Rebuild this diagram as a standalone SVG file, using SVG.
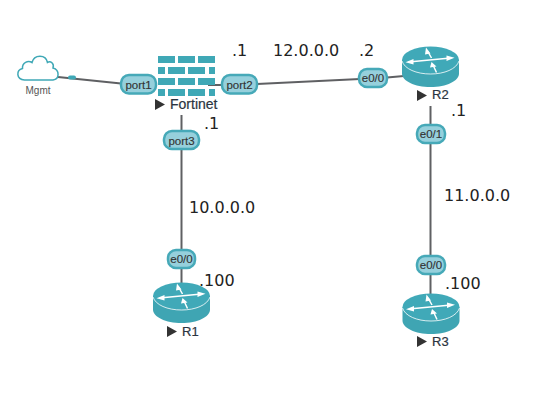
<svg xmlns="http://www.w3.org/2000/svg" width="554" height="413" viewBox="0 0 554 413">
<style>
text{font-family:"Liberation Sans",Arial,sans-serif}
.net{font-family:"DejaVu Sans",Verdana,sans-serif;font-size:16px;fill:#222}
.pill{fill:#96d0dc;stroke:#46a9b8;stroke-width:2.500}
.pt{font-size:11.500px;fill:#333;text-anchor:middle;stroke:#333;stroke-width:.15}
.ept{font-size:11.500px}
.nm{font-size:13px;fill:#2b3440;stroke:#2b3440;stroke-width:.2}
.tri{fill:#333}
.brick{fill:#3fa8b6}
.wire{stroke:#5f6063;stroke-width:2;fill:none}
.arr{stroke:#fff;stroke-width:1.500;fill:none}
</style>
<defs>
<g id="router">
<path d="M-28.500 0V13.500C-28.500 21 -16 27 0 27S28.500 21 28.500 13.500V0Z" fill="#3fa5b3"/>
<ellipse cx="0" cy="0" rx="28.500" ry="13.500" fill="#40a9b8"/>
<path d="M-28.500 1C-26 9 -14 14 0 14S26 9 28.500 1" fill="none" stroke="#fff" stroke-width=".8"/>
<path class="arr" d="M-22 2L20 -2M-3 -9L1 -2M2.500 5L6 12.500"/>
<path d="M-25 2.300L-17 -1V4.500ZM24 -2.300L16 -4.500V1ZM-4.500 -12.500L0 -6.500L-5.500 -5.500ZM1 2L6 6.500L-.500 7.500Z" fill="#fff"/>
</g>
</defs>
<g id="connectors">
<path class="wire" d="M58 77L121 83.500"/>
<path class="wire" d="M208 85H222"/>
<path class="wire" d="M257 84L360 79"/>
<path class="wire" d="M387 77.500L404 76"/>
<path class="wire" d="M181.500 115V283"/>
<path class="wire" d="M430.500 106V294"/>
<rect x="68" y="75.500" width="8" height="4" rx="2" fill="#3fa8b6"/>
</g>
<g id="mgmt">
<path d="M24.500 80C16 79.500 16 70 22.500 68.500C22 62.500 28 60 32 62.500C34 54 46 54 47.500 62.500C50.500 60.500 54.500 63.500 53 68C60 70 59.500 79.500 53 80Z" fill="#fff" stroke="#3fa8b6" stroke-width="1.500"/>
<text x="38" y="94" font-size="10px" fill="#555" text-anchor="middle">Mgmt</text>
</g>
<g id="fortinet">
<rect class="brick" x="158" y="56" width="17" height="7"/><rect class="brick" x="178" y="56" width="17" height="7"/><rect class="brick" x="198" y="56" width="17" height="7"/>
<rect class="brick" x="158" y="67" width="7" height="7"/><rect class="brick" x="168" y="67" width="17" height="7"/><rect class="brick" x="188" y="67" width="17" height="7"/><rect class="brick" x="209" y="67" width="6" height="7"/>
<rect class="brick" x="158" y="78" width="17" height="7"/><rect class="brick" x="178" y="78" width="17" height="7"/><rect class="brick" x="198" y="78" width="17" height="7"/>
<rect class="brick" x="158" y="89" width="7" height="7"/><rect class="brick" x="168" y="89" width="17" height="7"/><rect class="brick" x="188" y="89" width="17" height="7"/><rect class="brick" x="209" y="89" width="6" height="7"/>
<path class="tri" d="M155 99L165 104.500L155 110Z"/>
<text class="nm" x="170" y="109" style="font-size:14px">Fortinet</text>
</g>
<g id="R2">
<use href="#router" x="430.500" y="60"/>
<path class="tri" d="M417 90L427 95.500L417 101Z"/>
<text class="nm" x="432" y="99">R2</text>
</g>
<g id="R1">
<use href="#router" x="181.500" y="296"/>
<path class="tri" d="M167 326L177 331.500L167 337Z"/>
<text class="nm" x="182" y="336">R1</text>
</g>
<g id="R3">
<use href="#router" x="431" y="307"/>
<path class="tri" d="M417 336L427 341.500L417 347Z"/>
<text class="nm" x="432" y="346">R3</text>
</g>
<g id="port1"><rect class="pill" x="121" y="75" width="35" height="18.500" rx="8"/><text class="pt" x="138.500" y="88.500">port1</text></g>
<g id="port2"><rect class="pill" x="222" y="75" width="35" height="18.500" rx="8"/><text class="pt" x="239.500" y="88.500">port2</text></g>
<g id="port3"><rect class="pill" x="164" y="131" width="35" height="18" rx="8"/><text class="pt" x="181.500" y="144.500">port3</text></g>
<g id="e00-r2"><rect class="pill" x="359" y="69" width="28" height="18" rx="8"/><text class="pt ept" x="373" y="82">e0/0</text></g>
<g id="e01-r2"><rect class="pill" x="417" y="125" width="28" height="18" rx="8"/><text class="pt ept" x="431" y="138">e0/1</text></g>
<g id="e00-r1"><rect class="pill" x="168" y="250" width="27" height="18" rx="8"/><text class="pt ept" x="181.500" y="263">e0/0</text></g>
<g id="e00-r3"><rect class="pill" x="417" y="256" width="28" height="18" rx="8"/><text class="pt ept" x="431" y="269">e0/0</text></g>
<text class="net" x="232" y="56">.1</text>
<text class="net" x="273" y="56">12.0.0.0</text>
<text class="net" x="359" y="56">.2</text>
<text class="net" x="204" y="129">.1</text>
<text class="net" x="451" y="116">.1</text>
<text class="net" x="189" y="213">10.0.0.0</text>
<text class="net" x="444" y="201">11.0.0.0</text>
<text class="net" x="199" y="286">.100</text>
<text class="net" x="445" y="289">.100</text>
</svg>
